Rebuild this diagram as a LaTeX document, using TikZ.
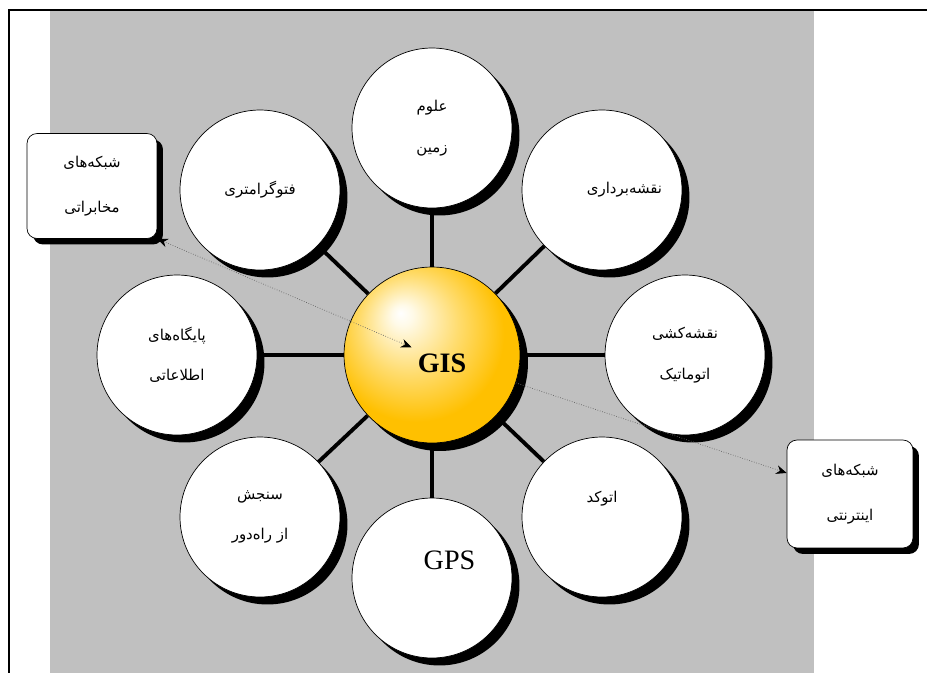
\documentclass[tikz,border=0pt]{standalone}
\usepackage{fontspec}
\usepackage{xcolor}
\usepackage{tikz}
\usetikzlibrary{arrows, arrows.meta, shapes, shadows, backgrounds}
\TeXXeTstate=1
\newfontfamily\persianfont[Script=Arabic]{DejaVu Sans}
\newfontfamily\timesfont{Liberation Serif}
\newcommand{\fatext}[1]{\beginR#1\endR}
\definecolor{panelgray}{RGB}{192,192,192}
\definecolor{gisgold}{RGB}{255,192,0}
\definecolor{gislight}{RGB}{255,250,232}
\definecolor{gismid}{RGB}{255,220,110}
\pgfdeclareradialshading{gisball}{\pgfpoint{-9bp}{12bp}}{color(0bp)=(white); color(3bp)=(gislight); color(14bp)=(gismid); color(25bp)=(gisgold); color(50bp)=(gisgold)}
\tikzset{
		topic/.style={draw, thin, circle, fill=white, minimum size=3.2cm, inner sep=0pt, align=center,
			font=\persianfont\fontsize{8.5}{10}\selectfont,
			drop shadow={fill=black, opacity=1, shadow xshift=0.15cm, shadow yshift=-0.15cm}},
		hub/.style={draw, thin, circle, minimum size=3.52cm, inner sep=0pt, shading=gisball,
			drop shadow={fill=black, opacity=1, shadow xshift=0.16cm, shadow yshift=-0.16cm}},
		netbox/.style={draw, thin, rounded corners=0.2cm, fill=white, align=center,
			font=\persianfont\fontsize{8.5}{10}\selectfont,
			drop shadow={fill=black, opacity=1, shadow xshift=0.12cm, shadow yshift=-0.12cm}},
		spoke/.style={line width=2.2pt},
		link/.style={densely dotted, thin, black!60, >={Stealth[length=6pt, width=5pt, black]}}
	}

\begin{document}
\begin{tikzpicture}[x=0.02cm, y=-0.02cm]
				\useasboundingbox (0,0) rectangle (927,673);
				\draw[line width=1pt] (9,673) -- (9,10) -- (927,10);

				\node[hub]   (gis)      at (432,355) {};
				\node[font=\timesfont\bfseries\fontsize{16}{18}\selectfont] (gistext) at (442,363) {GIS};

				\node[topic] (earth)    at (432,128) {\fatext{علوم}\\[13pt]\fatext{زمین}};
				\node[topic] (photo)    at (260,190) {\fatext{فتوگرامتری}};
				\node[topic] (survey)   at (602,190) {\hspace*{0.9cm}\fatext{نقشه^^^^200cبرداری}};
				\node[topic] (carto)    at (685,355) {\fatext{نقشه^^^^200cکشی}\\[13pt]\fatext{اتوماتیک}};
				\node[topic] (autocad)  at (602,517) {\fatext{اتوکد}\\[13pt]\mbox{}};
				\node[topic, font=\timesfont\fontsize{16}{18}\selectfont] (gps) at (432,578) {\hspace*{0.7cm}GPS\\[2pt]\mbox{}};
				\node[topic] (remote)   at (260,517) {\fatext{سنجش}\\[13pt]\fatext{از راه^^^^200cدور}};
				\node[topic] (database) at (177,355) {\fatext{پایگاه^^^^200cهای}\\[13pt]\fatext{اطلاعاتی}};

				\node[netbox, minimum width=2.6cm, minimum height=2.1cm]   (mobile)   at (92,186)  {\fatext{شبکه^^^^200cهای}\\[16pt]\fatext{مخابراتی}};
				\node[netbox, minimum width=2.52cm, minimum height=2.16cm] (internet) at (850,494) {\fatext{شبکه^^^^200cهای}\\[16pt]\fatext{اینترنتی}};

				\begin{pgfonlayer}{background}
					\fill[panelgray] (50,11) rectangle (814,673);
					\foreach \topic in {earth, photo, survey, carto, autocad, gps, remote, database}
						\draw[spoke] (gis) -- (\topic);
				\end{pgfonlayer}

				\draw[link, <->] (mobile.south east) -- (gistext.north west);
				\draw[link, ->]  (gis) -- (internet);
			\end{tikzpicture}
\end{document}
